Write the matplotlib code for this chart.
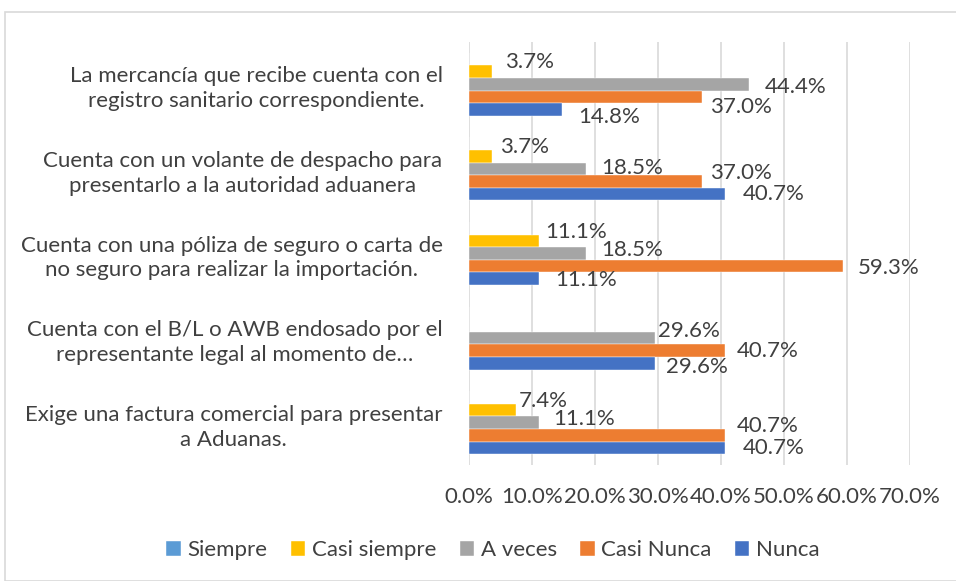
import matplotlib
matplotlib.use('Agg')
import matplotlib.pyplot as plt
from matplotlib.patches import Rectangle
import numpy as np

plt.rcParams['font.family'] = ['Lato', 'DejaVu Sans']

categorias = ['La mercancía que recibe cuenta con el\nregistro sanitario correspondiente.',
              'Cuenta con un volante de despacho para\npresentarlo a la autoridad aduanera',
              'Cuenta con una póliza de seguro o carta de\nno seguro para realizar la importación.',
              'Cuenta con el B/L o AWB endosado por el\nrepresentante legal al momento de…',
              'Exige una factura comercial para presentar\na Aduanas.']
series = ['Siempre', 'Casi siempre', 'A veces', 'Casi Nunca', 'Nunca']
siempre = [0.0, 0.0, 0.0, 0.0, 0.0]
casi_siempre = [3.7, 3.7, 11.1, 0.0, 7.4]
a_veces = [44.4, 18.5, 18.5, 29.6, 11.1]
casi_nunca = [37.0, 37.0, 59.3, 40.7, 40.7]
nunca = [14.8, 40.7, 11.1, 29.6, 40.7]
colores = ['#5B9BD5', '#FFC000', '#A5A5A5', '#ED7D31', '#4472C4']
valores = [siempre, casi_siempre, a_veces, casi_nunca, nunca]

# desplazamiento de etiquetas (px: derecha, abajo), como las coloca Excel
ajustes = [
    [(0, 0)] * 5,
    [(13, -10), (8, -9), (6, -9), (0, 0), (3, -9)],
    [(16, 3), (16, -1), (16, -4), (3, -7), (14, -4)],
    [(8, 10), (8, -9), (15, 2), (11, 0), (11, -9)],
    [(16, 7), (17, 0), (16, 1), (11, 4), (17, 0)],
]

txt = '#404040'
fs = 16
fig = plt.figure(figsize=(9.56, 5.81), dpi=100)
fig.patches.append(Rectangle((5/956, 0.0), 1.0, 1 - 12/581, transform=fig.transFigure,
                             fill=False, edgecolor='#D9D9D9', linewidth=1.2))
ax = fig.add_axes([469/956, 1 - 465/581, 441/956, 423/581])

n = len(categorias)
h = 0.149
centros = np.arange(n)
for j, (nombre, vals, c) in enumerate(zip(series, valores, colores)):
    y = centros + (j - 2) * h
    ax.barh(y, vals, height=h, color=c, label=nombre, edgecolor='white', linewidth=0.3)
    for yi, v, (dx, dy) in zip(y, vals, ajustes[j]):
        if v > 0:
            ax.annotate('{:.1f}%'.format(v), (v, yi), xytext=(dx, -dy),
                        textcoords='offset pixels', va='center', ha='left',
                        fontsize=fs, color=txt)

ax.set_ylim(n - 0.5, -0.5)
ax.set_xlim(0, 70)
ax.set_xticks(np.arange(0, 71, 10))
ax.set_xticklabels(['{:.1f}%'.format(t) for t in range(0, 71, 10)], fontsize=fs, color=txt)
ax.set_yticks(centros)
ax.set_yticklabels(categorias, fontsize=fs, color=txt, linespacing=1.3,
                   multialignment='center')
ax.tick_params(length=0, pad=19)
ax.tick_params(axis='x', pad=16)
ax.grid(axis='x', color='#D9D9D9', linewidth=1.2)
ax.set_axisbelow(True)
for s in ax.spines.values():
    s.set_visible(False)

fig.legend(loc='center', bbox_to_anchor=(493/956, 1 - 550/581), ncol=5, frameon=False,
           fontsize=fs, handlelength=0.65, handleheight=0.65, handletextpad=0.3,
           columnspacing=1.05, labelcolor=txt)

fig.savefig('out.png', dpi=100)
